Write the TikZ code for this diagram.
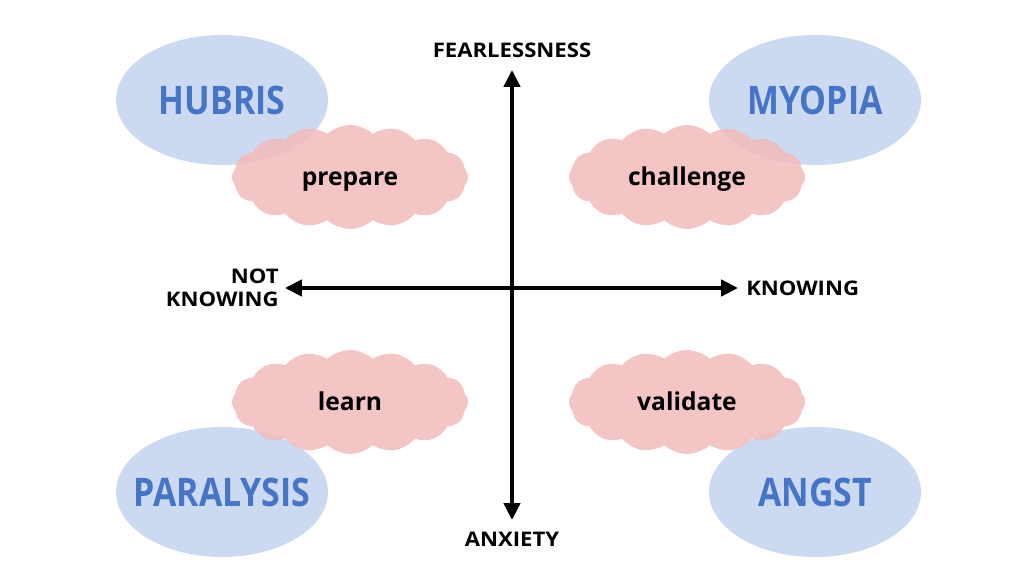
\documentclass[tikz,border=0pt]{standalone}
\usepackage{fontspec}
\setmainfont{Open Sans}
\newfontfamily\statefont{Open Sans}[FakeStretch=0.86]
\newfontfamily\axisfont{Open Sans}[FakeStretch=1.1]
\usepackage{xcolor}
\usetikzlibrary{arrows.meta,shapes,positioning}
\definecolor{blob}{HTML}{CCDAF1}
\definecolor{blobtext}{HTML}{4674C6}
\definecolor{puff}{HTML}{F2BBBB}

\begin{document}
\begin{tikzpicture}[node distance=0.2cm,
    state/.style={ellipse,fill=blob,minimum width=5.3cm,minimum height=3.25cm,
      label={[text=blobtext,font=\statefont\bfseries\fontsize{28}{32}\selectfont]center:#1}},
    act/.style={cloud,cloud puffs=16,cloud puff arc=85,aspect=2.3,fill=puff,fill opacity=0.85,text opacity=1,
      minimum width=5.9cm,minimum height=2.6cm,text height=14.8pt,text depth=2.6pt,
      font=\bfseries\fontsize{17.5}{20}\selectfont},
    axis/.style={line width=2.8pt,-{Triangle[length=0.42cm,width=0.4cm]}},
    lbl/.style={font=\axisfont\bfseries\fontsize{14.3}{16.5}\selectfont,inner sep=0pt,align=right}]
  \useasboundingbox (-12.8,-7.2) rectangle (12.8,7.2);
  % states in the four corners
  \node[state=HUBRIS] (hubris) at (-7.25,4.7) {};
  \node[state=MYOPIA] (myopia) at (7.575,4.7) {};
  \node[state=PARALYSIS] (paralysis) at (-7.25,-5.1) {};
  \node[state=ANGST] (angst) at (7.575,-5.1) {};
  % actions
  \node[act] (prepare) at (-4.05,2.775) {prepare};
  \node[act] (challenge) at (4.375,2.775) {challenge};
  \node[act] (learn) at (-4.05,-2.85) {learn};
  \node[act] (validate) at (4.375,-2.85) {validate};
  % axes
  \coordinate (top) at (0,5.45);
  \coordinate (bottom) at (0,-5.8);
  \coordinate (left) at (-5.675,0);
  \coordinate (right) at (5.65,0);
  \draw[axis] (0,0) -- (top);
  \draw[axis] (0,0) -- (bottom);
  \draw[axis] (0,0) -- (left);
  \draw[axis] (0,0) -- (right);
  \node[lbl,above=0.3cm of top] (fear) {FEARLESSNESS};
  \node[lbl,below=0.3cm of bottom] (anx) {ANXIETY};
  \node[lbl,left=0.15cm of left] (notk) {NOT\\KNOWING};
  \node[lbl,right=0.2cm of right] (know) {KNOWING};
\end{tikzpicture}
\end{document}
